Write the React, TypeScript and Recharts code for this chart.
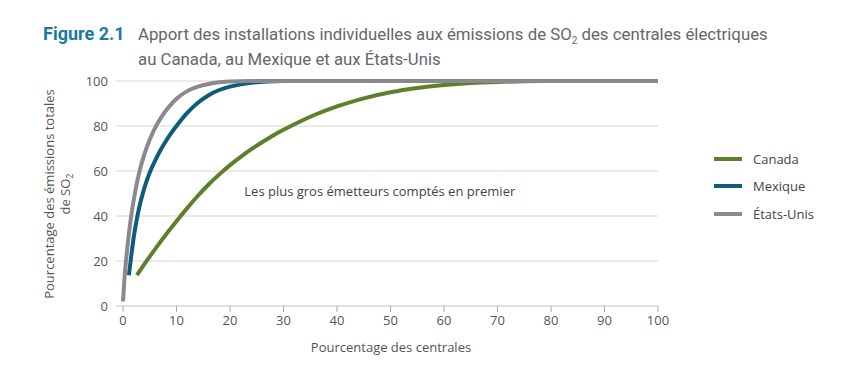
import { LineChart, Line, XAxis, YAxis, CartesianGrid, ReferenceDot } from "recharts";

// points (x = % of plants, y = % of SO2 emissions)
const canada = [
  { x: 2.6, y: 13.7 }, { x: 4, y: 18.6 }, { x: 6, y: 25.3 }, { x: 8, y: 31.7 },
  { x: 10, y: 37.7 }, { x: 12, y: 43.5 }, { x: 14, y: 49 }, { x: 16, y: 54 },
  { x: 18, y: 58.5 }, { x: 20, y: 62.6 }, { x: 22, y: 66.3 }, { x: 24, y: 69.7 },
  { x: 26, y: 72.8 }, { x: 28, y: 75.7 }, { x: 30, y: 78.3 }, { x: 33, y: 81.9 },
  { x: 36, y: 85.1 }, { x: 40, y: 88.7 }, { x: 45, y: 92.3 }, { x: 50, y: 95 },
  { x: 55, y: 96.9 }, { x: 60, y: 98.2 }, { x: 65, y: 99.1 }, { x: 70, y: 99.6 },
  { x: 75, y: 99.9 }, { x: 80, y: 100 }, { x: 100, y: 100 },
];
const mexique = [
  { x: 1.1, y: 13.7 }, { x: 1.5, y: 21.5 }, { x: 2, y: 30.5 }, { x: 2.5, y: 37.5 },
  { x: 3, y: 43.5 }, { x: 4, y: 52.5 }, { x: 5, y: 59.3 }, { x: 6, y: 64.6 },
  { x: 7, y: 69.2 }, { x: 8, y: 73.2 }, { x: 9, y: 76.8 }, { x: 10, y: 80 },
  { x: 12, y: 85.8 }, { x: 14, y: 90.3 }, { x: 16, y: 93.7 }, { x: 18, y: 96 },
  { x: 20, y: 97.5 }, { x: 22, y: 98.5 }, { x: 24, y: 99.2 }, { x: 27, y: 99.8 },
  { x: 30, y: 100 }, { x: 100, y: 100 },
];
const etatsUnis = [
  { x: 0, y: 2 }, { x: 0.3, y: 13 }, { x: 0.6, y: 21 }, { x: 1, y: 30 },
  { x: 1.5, y: 39.5 }, { x: 2, y: 47 }, { x: 2.5, y: 53.5 }, { x: 3, y: 59 },
  { x: 4, y: 67.5 }, { x: 5, y: 74 }, { x: 6, y: 79.2 }, { x: 7, y: 83.3 },
  { x: 8, y: 86.8 }, { x: 9, y: 89.6 }, { x: 10, y: 92.1 }, { x: 12, y: 95.5 },
  { x: 14, y: 97.5 }, { x: 16, y: 98.7 }, { x: 18, y: 99.4 }, { x: 20, y: 99.8 },
  { x: 24, y: 100 }, { x: 100, y: 100 },
];

const xTicks = [0, 10, 20, 30, 40, 50, 60, 70, 80, 90, 100];
const yTicks = [0, 20, 40, 60, 80, 100];

const series = [
  { name: "Canada", data: canada, color: "#5f7f2c" },
  { name: "Mexique", data: mexique, color: "#0f5b7a" },
  { name: "États-Unis", data: etatsUnis, color: "#8a8a8e" },
];

const tickFont = { fontFamily: "'Open Sans', sans-serif", fontSize: 13, fill: "#555" };

function YLabel() {
  return (
    <g transform="translate(0,194) rotate(-90)" fontFamily="'Open Sans', sans-serif" fontSize={13} fill="#555" textAnchor="middle">
      <text x={0} y={54}>Pourcentage des émissions totales</text>
      <text x={0} y={70}>
        de SO<tspan fontSize={9} dy={3}>2</tspan>
      </text>
    </g>
  );
}

export default function App() {
  return (
    <div style={{ position: "absolute", left: 0, top: 0, width: 852, height: 374, background: "#fff" }}>
      <div style={{ position: "absolute", left: 43, top: 23, fontFamily: "'Liberation Sans Narrow', 'Roboto', sans-serif", fontSize: 16.8, lineHeight: "22px", color: "#666" }}>
        <span style={{ color: "#1a7a9c", fontWeight: "bold", fontSize: 18, display: "inline-block", width: 95 }}>Figure 2.1</span>
        Apport des installations individuelles aux émissions de SO
        <span style={{ fontSize: 10, position: "relative", top: 4 }}>2</span> des centrales électriques
        <br />
        <span style={{ display: "inline-block", width: 95 }} />
        au Canada, au Mexique et aux États-Unis
      </div>

      <LineChart width={852} height={374} data={canada} margin={{ top: 81, right: 194, bottom: 38, left: 56 }}>
        <CartesianGrid horizontal vertical={false} stroke="#d6d6d6" />
        <XAxis
          dataKey="x"
          type="number"
          domain={[0, 100]}
          ticks={xTicks}
          padding={{ left: 7 }}
          axisLine={{ stroke: "#d6d6d6" }}
          tickLine={{ stroke: "#aaa" }}
          tick={{ ...tickFont, dy: 2 }}
          height={30}
          label={{ value: "Pourcentage des centrales", position: "bottom", offset: 7, dx: 4, style: { fontFamily: "'Open Sans', sans-serif", fontSize: 13, fill: "#555" } }}
        />
        <YAxis
          type="number"
          domain={[0, 100]}
          ticks={yTicks}
          axisLine={false}
          tickLine={false}
          tick={tickFont}
          width={60}
        />
        {series.map((s) => (
          <Line
            key={s.name}
            data={s.data}
            dataKey="y"
            type="monotone"
            stroke={s.color}
            strokeWidth={4}
            dot={false}
            isAnimationActive={false}
          />
        ))}
        <ReferenceDot
          x={48}
          y={51}
          r={0}
          fill="none"
          stroke="none"
          label={{ value: "Les plus gros émetteurs comptés en premier", position: "center", style: { fontFamily: "'Open Sans', sans-serif", fontSize: 13, fill: "#444" } }}
        />
        <YLabel />
      </LineChart>

      <div style={{ position: "absolute", left: 714, top: 145, fontFamily: "'Open Sans', sans-serif", fontSize: 13, color: "#444" }}>
        {series.map((s) => (
          <div key={s.name} style={{ display: "flex", alignItems: "center", height: 27.5 }}>
            <span style={{ width: 28, height: 4, background: s.color, marginRight: 11 }} />
            {s.name}
          </div>
        ))}
      </div>
    </div>
  );
}
